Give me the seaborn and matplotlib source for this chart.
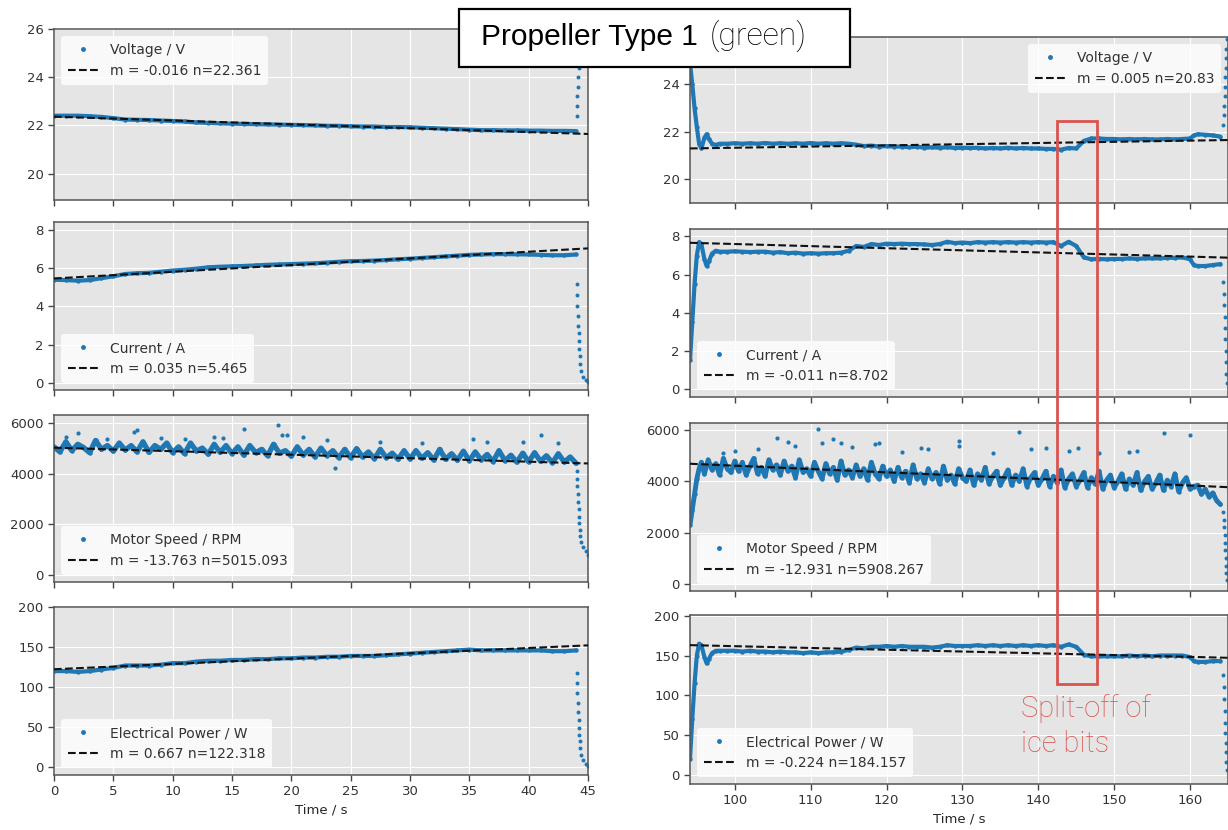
"""
Propeller Type 1 (green) - motor log, two runs side by side
"""

import matplotlib
matplotlib.use("Agg")
import matplotlib.pyplot as plt
from matplotlib.patches import Rectangle
from matplotlib.lines import Line2D
import seaborn as sns

# --- Run 1 (left column), 1 s samples ---
L_T = [0, 1, 2, 3, 4, 5, 6, 7, 8, 9,
       10, 11, 12, 13, 14, 15, 16, 17, 18, 19,
       20, 21, 22, 23, 24, 25, 26, 27, 28, 29,
       30, 31, 32, 33, 34, 35, 36, 37, 38, 39,
       40, 41, 42, 43, 44]
L_VOLT = [22.40, 22.40, 22.40, 22.38, 22.35, 22.30, 22.24, 22.23, 22.22, 22.20,
          22.18, 22.16, 22.12, 22.10, 22.08, 22.07, 22.06, 22.05, 22.04, 22.03,
          22.02, 22.01, 22.00, 21.98, 21.98, 21.96, 21.95, 21.95, 21.93, 21.93,
          21.92, 21.90, 21.88, 21.86, 21.84, 21.82, 21.80, 21.80, 21.79, 21.79,
          21.78, 21.78, 21.77, 21.77, 21.76]
L_CURR = [5.40, 5.38, 5.35, 5.38, 5.48, 5.58, 5.70, 5.74, 5.76, 5.82,
          5.88, 5.92, 5.98, 6.05, 6.08, 6.10, 6.12, 6.15, 6.18, 6.20,
          6.22, 6.24, 6.26, 6.30, 6.34, 6.37, 6.38, 6.40, 6.43, 6.47,
          6.50, 6.54, 6.58, 6.62, 6.66, 6.70, 6.72, 6.74, 6.74, 6.73,
          6.72, 6.70, 6.68, 6.68, 6.72]
L_POWER = [120, 120, 119, 120, 122, 124, 127, 127, 127, 128,
           130, 130, 132, 133, 133, 134, 134, 135, 135, 136,
           136, 137, 137, 138, 138, 139, 139, 139, 140, 141,
           142, 143, 144, 145, 146, 147, 146, 146, 146, 146,
           146, 146, 145, 145, 146]

# motor speed is noisy, 0.5 s samples
L_RPM_T = [0, 0.5, 1, 1.5, 2, 2.5, 3, 3.5, 4, 4.5,
           5, 5.5, 6, 6.5, 7, 7.5, 8, 8.5, 9, 9.5,
           10, 10.5, 11, 11.5, 12, 12.5, 13, 13.5, 14, 14.5,
           15, 15.5, 16, 16.5, 17, 17.5, 18, 18.5, 19, 19.5,
           20, 20.5, 21, 21.5, 22, 22.5, 23, 23.5, 24, 24.5,
           25, 25.5, 26, 26.5, 27, 27.5, 28, 28.5, 29, 29.5,
           30, 30.5, 31, 31.5, 32, 32.5, 33, 33.5, 34, 34.5,
           35, 35.5, 36, 36.5, 37, 37.5, 38, 38.5, 39, 39.5,
           40, 40.5, 41, 41.5, 42, 42.5, 43, 43.5, 44]
L_RPM = [5050, 4850, 5250, 4900, 5150, 5020, 4820, 5300, 4950, 5100,
         4880, 5200, 4920, 5100, 4850, 5250, 4830, 5100, 4950, 5200,
         4820, 5050, 4780, 5200, 4880, 5000, 4760, 5150, 4830, 5100,
         4780, 5050, 4720, 5100, 4820, 4950, 4700, 5150, 4800, 4900,
         4680, 5050, 4720, 4950, 4650, 5000, 4700, 4900, 4620, 4950,
         4620, 4980, 4650, 4850, 4580, 4950, 4620, 4800, 4560, 4900,
         4570, 4900, 4600, 4820, 4530, 4950, 4560, 4780, 4520, 4880,
         4500, 4850, 4530, 4750, 4470, 4900, 4500, 4720, 4450, 4800,
         4460, 4820, 4480, 4700, 4420, 4780, 4450, 4650, 4400]
L_OUT_T = [1.0, 2.0, 4.5, 6.7, 7.0, 9.0, 11.0, 13.5, 14.2, 16.0,
           18.9, 19.2, 19.6, 21.0, 23.0, 23.7, 27.5, 31.0, 35.3, 36.5,
           39.5, 41.0, 42.5]
L_OUT = [5450, 5600, 5350, 5650, 5700, 5400, 5350, 5450, 5400, 5750,
         5900, 5500, 5500, 5450, 5300, 4200, 5250, 5200, 5350, 5250,
         5250, 5500, 5200]

# shut-down at the end of run 1
L_TAIL_T = [44.05, 44.08, 44.11, 44.14, 44.17, 44.20, 44.23, 44.26, 44.30, 44.36,
            44.45, 44.6, 44.8, 45.0]
L_VOLT_TAIL = [22.4, 22.8, 23.2, 23.6, 24.0, 24.4, 24.8, 25.2, 25.6, 26.0,
               26.4, 26.8, 27.0, 27.0]
L_CURR_TAIL = [5.2, 4.6, 4.0, 3.5, 3.0, 2.6, 2.2, 1.8, 1.4, 1.0,
               0.6, 0.3, 0.15, 0.05]
L_RPM_TAIL = [4100, 3800, 3500, 3200, 2900, 2600, 2300, 2050, 1800, 1550,
              1300, 1100, 950, 800]
L_POWER_TAIL = [118, 105, 92, 80, 68, 58, 49, 40, 32, 24,
                15, 8, 3, 1]

# --- Run 2 (right column) ---
R_T = [94.1, 94.4, 94.7, 95.0, 95.3, 95.6, 96.0, 96.3, 96.6, 97.0, 97.5, 98,
       99, 100, 101, 102, 103, 104, 105, 106, 107, 108,
       109, 110, 111, 112, 113, 114, 115, 116, 117, 118,
       119, 120, 121, 122, 123, 124, 125, 126, 127, 128,
       129, 130, 131, 132, 133, 134, 135, 136, 137, 138,
       139, 140, 141, 142, 143, 144, 145, 146, 147, 148,
       149, 150, 151, 152, 153, 154, 155, 156, 157, 158,
       159, 160, 160.5, 161, 162, 163, 164]
R_VOLT = [24.9, 24.0, 23.0, 22.2, 21.5, 21.3, 21.75, 21.9, 21.7, 21.5, 21.45, 21.5,
          21.50, 21.52, 21.50, 21.52, 21.50, 21.53, 21.50, 21.52, 21.50, 21.52,
          21.50, 21.53, 21.50, 21.52, 21.50, 21.52, 21.50, 21.46, 21.40, 21.42,
          21.38, 21.40, 21.38, 21.38, 21.35, 21.38, 21.33, 21.35, 21.33, 21.35,
          21.32, 21.33, 21.32, 21.33, 21.30, 21.32, 21.30, 21.33, 21.30, 21.32,
          21.30, 21.30, 21.28, 21.28, 21.25, 21.32, 21.30, 21.62, 21.72, 21.72,
          21.70, 21.70, 21.68, 21.70, 21.68, 21.70, 21.68, 21.68, 21.70, 21.68,
          21.70, 21.72, 21.85, 21.90, 21.88, 21.85, 21.80]
R_CURR = [1.5, 3.5, 5.5, 7.0, 7.7, 7.6, 6.8, 6.45, 6.7, 7.1, 7.25, 7.2,
          7.20, 7.22, 7.20, 7.18, 7.20, 7.20, 7.15, 7.18, 7.12, 7.15,
          7.10, 7.12, 7.10, 7.12, 7.12, 7.15, 7.25, 7.50, 7.45, 7.60,
          7.55, 7.62, 7.60, 7.62, 7.60, 7.60, 7.58, 7.55, 7.60, 7.72,
          7.65, 7.68, 7.65, 7.70, 7.68, 7.70, 7.68, 7.70, 7.68, 7.70,
          7.68, 7.70, 7.68, 7.70, 7.50, 7.72, 7.50, 6.90, 6.80, 6.82,
          6.80, 6.82, 6.82, 6.85, 6.82, 6.85, 6.85, 6.85, 6.88, 6.88,
          6.90, 6.80, 6.50, 6.45, 6.45, 6.50, 6.55]
R_POWER = [20, 70, 115, 150, 165, 163, 148, 140, 146, 153, 156, 156,
           156, 156, 155, 156, 155, 155, 154, 155, 154, 154,
           153, 154, 153, 154, 154, 155, 157, 160, 159, 161,
           161, 162, 161, 162, 161, 161, 161, 160, 161, 163,
           162, 162, 162, 163, 162, 163, 162, 163, 162, 163,
           162, 163, 162, 163, 161, 164, 161, 151, 149, 149,
           149, 149, 149, 150, 149, 150, 149, 150, 150, 150,
           150, 148, 143, 142, 142, 143, 143]

R_RPM_T = [94.1, 94.4, 94.7, 95.0, 95.3, 95.6,
           96, 96.5, 97, 97.5, 98, 98.5, 99, 99.5, 100, 100.5,
           101, 101.5, 102, 102.5, 103, 103.5, 104, 104.5, 105, 105.5,
           106, 106.5, 107, 107.5, 108, 108.5, 109, 109.5, 110, 110.5,
           111, 111.5, 112, 112.5, 113, 113.5, 114, 114.5, 115, 115.5,
           116, 116.5, 117, 117.5, 118, 118.5, 119, 119.5, 120, 120.5,
           121, 121.5, 122, 122.5, 123, 123.5, 124, 124.5, 125, 125.5,
           126, 126.5, 127, 127.5, 128, 128.5, 129, 129.5, 130, 130.5,
           131, 131.5, 132, 132.5, 133, 133.5, 134, 134.5, 135, 135.5,
           136, 136.5, 137, 137.5, 138, 138.5, 139, 139.5, 140, 140.5,
           141, 141.5, 142, 142.5, 143, 143.5, 144, 144.5, 145, 145.5,
           146, 146.5, 147, 147.5, 148, 148.5, 149, 149.5, 150, 150.5,
           151, 151.5, 152, 152.5, 153, 153.5, 154, 154.5, 155, 155.5,
           156, 156.5, 157, 157.5, 158, 158.5, 159, 159.5, 160, 160.5,
           161, 161.5, 162, 162.5, 163, 163.5, 164]
R_RPM = [2300, 2900, 3500, 4100, 4500, 4750,
         4300, 4850, 4450, 4700, 4250, 4900, 4500, 4350, 4800, 4400,
         4750, 4250, 4600, 4900, 4300, 4550, 4200, 4850, 4450, 4650,
         4250, 4800, 4400, 4600, 4150, 4850, 4350, 4500, 4200, 4750,
         4400, 4100, 4700, 4300, 4550, 4050, 4800, 4250, 4450, 4150,
         4650, 4200, 4500, 4050, 4750, 4300, 4100, 4600, 4200, 4450,
         4000, 4550, 4150, 4400, 3950, 4650, 4100, 4300, 3950, 4500,
         4100, 4350, 3900, 4600, 4050, 4250, 3900, 4500, 4150, 4000,
         4450, 3850, 4300, 4050, 4550, 3900, 4200, 4400, 3850, 4150,
         4450, 3850, 4250, 4000, 4500, 3800, 4150, 4350, 3850, 4100,
         4400, 3800, 4200, 3950, 4450, 3750, 4100, 4300, 3800, 4050,
         4350, 3750, 4150, 3900, 4400, 3700, 4050, 4250, 3750, 4000,
         4300, 3700, 4100, 3850, 4350, 3650, 4000, 4200, 3700, 3950,
         4250, 3650, 4050, 3800, 4300, 3600, 3950, 4150, 3700, 3800,
         3850, 3500, 3700, 3400, 3550, 3250, 3100]
R_OUT_T = [98.5, 100.0, 103.0, 105.5, 107.0, 108.0, 111.0, 111.5, 113.0, 114.0,
           115.5, 118.5, 119.0, 122.0, 124.5, 125.5, 129.5, 129.6, 134.0, 137.5,
           139.0, 141.0, 144.0, 145.2, 148.0, 152.0, 153.0, 156.5, 160.0]
R_OUT = [5100, 5200, 5250, 5700, 5550, 5400, 6050, 5500, 5650, 5500,
         5350, 5450, 5500, 5150, 5300, 5250, 5600, 5400, 5100, 5950,
         5250, 5300, 5200, 5300, 5100, 5150, 5200, 5900, 5800]

R_TAIL_T = [164.4, 164.45, 164.5, 164.55, 164.6, 164.65, 164.7, 164.75, 164.8, 164.9]
R_VOLT_TAIL = [22.3, 22.7, 23.1, 23.5, 23.9, 24.3, 24.7, 25.1, 25.5, 25.9]
R_CURR_TAIL = [5.6, 5.0, 4.4, 3.8, 3.2, 2.6, 2.0, 1.4, 0.8, 0.3]
R_RPM_TAIL = [2800, 2500, 2200, 1900, 1600, 1300, 1000, 700, 400, 150]
R_POWER_TAIL = [125, 110, 95, 80, 65, 52, 40, 28, 16, 6]

# linear fits (m, n) as printed in the legends
L_FITS = [(-0.016, 22.361), (0.035, 5.465), (-13.763, 5015.093), (0.667, 122.318)]
R_FITS = [(0.005, 20.83), (-0.011, 8.702), (-12.931, 5908.267), (-0.224, 184.157)]

LABELS = ["Voltage / V", "Current / A", "Motor Speed / RPM", "Electrical Power / W"]

BLUE = "#1f77b4"
RED = "#d9534f"
W, H = 1228, 830

sns.set_style("darkgrid", {
    "axes.facecolor": "#E5E5E5",
    "axes.edgecolor": "#555555",
    "grid.color": "white",
    "xtick.bottom": True,
    "ytick.left": True,
    "xtick.color": "#444444",
    "ytick.color": "#444444",
    "text.color": "#333333",
})
plt.rcParams["font.family"] = ["DejaVu Sans"]
plt.rcParams["axes.linewidth"] = 1.1
plt.rcParams["xtick.major.size"] = 4
plt.rcParams["ytick.major.size"] = 4

fig = plt.figure(figsize=(W / 100, H / 100), dpi=100)


def px_axes(x0, x1, y0, y1):
    return fig.add_axes([x0 / W, 1 - y1 / H, (x1 - x0) / W, (y1 - y0) / H])


def draw_panel(ax, t, y, tail_t, tail_y, fit, label, xlim, ylim, yticks, loc,
               out_t=None, out_y=None, lw=3.0):
    sns.lineplot(x=t, y=y, ax=ax, color=BLUE, lw=lw, estimator=None, sort=False, zorder=2)
    sns.scatterplot(x=t, y=y, ax=ax, color=BLUE, s=10, linewidth=0, zorder=2)
    sns.scatterplot(x=tail_t, y=tail_y, ax=ax, color=BLUE, s=8, linewidth=0, zorder=2)
    if out_t is not None:
        sns.scatterplot(x=out_t, y=out_y, ax=ax, color=BLUE, s=9, linewidth=0, zorder=2)
    m, n = fit
    xs = [xlim[0], xlim[1]]
    sns.lineplot(x=xs, y=[m * v + n for v in xs], ax=ax, color="#111111",
                 lw=1.5, linestyle="--", zorder=3)
    ax.set_xlim(*xlim)
    ax.set_ylim(*ylim)
    ax.set_yticks(yticks)
    ax.set_xlabel("")
    ax.set_ylabel("")
    ax.tick_params(labelsize=9.5, labelcolor="#333333", width=1)
    handles = [Line2D([], [], marker="o", ls="none", color=BLUE, markersize=2.5),
               Line2D([], [], ls="--", color="#111111", lw=1.5)]
    ax.legend(handles, [label, f"m = {m} n={n}"], loc=loc, fontsize=10,
              framealpha=0.8, facecolor="white", edgecolor="none",
              handlelength=2.2, borderpad=0.5)


left_rows = [(29, 200), (222, 390), (415, 582), (607, 775)]
right_rows = [(37, 203), (229, 397), (423, 591), (615, 784)]
left_ylims = [(18.9, 26), (-0.37, 8.42), (-263, 6300), (-10.5, 200.5)]
right_ylims = [(19.0, 26.0), (-0.42, 8.39), (-290, 6287), (-11.7, 201)]
left_yticks = [[20, 22, 24, 26], [0, 2, 4, 6, 8], [0, 2000, 4000, 6000], [0, 50, 100, 150, 200]]
right_yticks = [[20, 22, 24], [0, 2, 4, 6, 8], [0, 2000, 4000, 6000], [0, 50, 100, 150, 200]]

left_data = [(L_T, L_VOLT, L_VOLT_TAIL), (L_T, L_CURR, L_CURR_TAIL),
             (L_RPM_T, L_RPM, L_RPM_TAIL), (L_T, L_POWER, L_POWER_TAIL)]
right_data = [(R_T, R_VOLT, R_VOLT_TAIL), (R_T, R_CURR, R_CURR_TAIL),
              (R_RPM_T, R_RPM, R_RPM_TAIL), (R_T, R_POWER, R_POWER_TAIL)]
left_locs = ["upper left", "lower left", "lower left", "lower left"]
right_locs = ["upper right", "lower left", "lower left", "lower left"]

for i in range(4):
    rpm = i == 2
    ax = px_axes(54, 588, *left_rows[i])
    t, y, tail = left_data[i]
    draw_panel(ax, t, y, L_TAIL_T, tail, L_FITS[i], LABELS[i], (0, 45),
               left_ylims[i], left_yticks[i], left_locs[i],
               L_OUT_T if rpm else None, L_OUT if rpm else None,
               lw=3.8 if rpm else 3.0)
    ax.set_xticks(range(0, 46, 5))
    if i < 3:
        ax.set_xticklabels([])
    else:
        ax.set_xlabel("Time / s", fontsize=9.5)

    ax = px_axes(690, 1228, *right_rows[i])
    t, y, tail = right_data[i]
    draw_panel(ax, t, y, R_TAIL_T, tail, R_FITS[i], LABELS[i], (94.1, 165),
               right_ylims[i], right_yticks[i], right_locs[i],
               R_OUT_T if rpm else None, R_OUT if rpm else None,
               lw=3.5 if rpm else 3.0)
    ax.set_xticks(range(100, 161, 10))
    if i < 3:
        ax.set_xticklabels([])
    else:
        ax.set_xlabel("Time / s", fontsize=9.5)

# title box
fig.add_artist(Rectangle((459 / W, 1 - 67 / H), 391 / W, 58 / H, transform=fig.transFigure,
                         facecolor="white", edgecolor="black", lw=1.6, zorder=5))
t1 = fig.text(481 / W, 1 - 45 / H, "Propeller Type 1", fontsize=21.5,
              family=["Liberation Sans", "DejaVu Sans"],
              color="black", va="baseline", zorder=6)
bb = t1.get_window_extent(renderer=fig.canvas.get_renderer())
fig.text((bb.x1 + 12) / W, 1 - 45 / H, "(green)", fontsize=23,
         family=["Roboto", "DejaVu Sans"], fontweight="light",
         color="black", va="baseline", zorder=6)

# ice split-off annotation
fig.add_artist(Rectangle((1057 / W, 1 - 684 / H), 40 / W, 563 / H, transform=fig.transFigure,
                         facecolor="none", edgecolor=RED, lw=2, zorder=5))
fig.text(1021 / W, 1 - 717 / H, "Split-off of", fontsize=21, family=["Roboto", "DejaVu Sans"],
         fontweight="light", color=RED, va="baseline", zorder=6)
fig.text(1021 / W, 1 - 752 / H, "ice bits", fontsize=21, family=["Roboto", "DejaVu Sans"],
         fontweight="light", color=RED, va="baseline", zorder=6)

fig.savefig("out.png", dpi=100)
